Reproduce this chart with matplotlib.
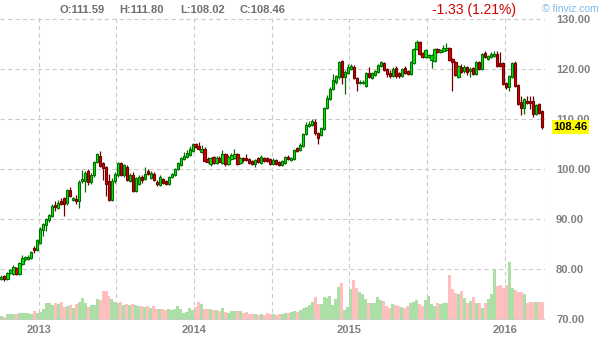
import numpy as np
import pandas as pd
import matplotlib
matplotlib.use('Agg')
import matplotlib.pyplot as plt

plt.rcParams['font.family'] = ['Liberation Sans', 'DejaVu Sans']

# weekly bars, Friday dates
dates = pd.date_range('2012-10-05', periods=182, freq='W-FRI')

opens = [78.0, 78.6, 78.0, 79.3, 79.0, 80.2, 79.1, 81.0, 82.0, 82.1,
         82.2, 84.2, 83.8, 85.2, 87.8, 88.8, 89.9, 90.6, 92.8, 92.3,
         93.7, 94.2, 93.2, 95.9, 93.9, 94.1, 93.7, 97.6, 97.7, 99.7,
         97.5, 98.8, 101.4, 102.7, 101.2, 100.4, 97.7, 93.9, 97.7, 98.8,
         101.2, 98.9, 100.4, 97.7, 98.9, 95.7, 97.1, 98.5, 98.1, 99.6,
         98.3, 99.1, 97.5, 96.9, 98.0, 97.6, 97.1, 98.5, 98.8, 100.0,
         100.9, 102.1, 102.5, 102.9, 103.7, 105.1, 104.7, 103.5, 104.1, 102.1,
         101.0, 102.5, 101.2, 102.3, 101.2, 103.1, 101.1, 102.1, 102.3, 103.1,
         101.3, 102.2, 102.2, 102.0, 101.6, 101.1, 102.2, 101.3, 102.3, 102.2,
         102.0, 101.1, 101.8, 101.4, 100.9, 101.3, 102.5, 101.9, 102.0, 104.2,
         103.9, 104.7, 107.1, 108.7, 108.9, 109.5, 107.3, 106.9, 108.1, 112.3,
         114.1, 116.1, 117.4, 118.4, 121.6, 118.4, 119.2, 120.0, 120.4, 118.2,
         117.2, 117.2, 116.6, 119.2, 118.2, 118.8, 119.4, 120.6, 121.2, 120.0,
         119.2, 118.6, 120.2, 119.2, 118.6, 120.2, 119.6, 119.0, 121.2, 124.0,
         125.4, 123.2, 122.4, 122.4, 121.8, 121.6, 124.0, 123.4, 123.6, 123.8,
         124.2, 122.0, 121.4, 118.4, 120.4, 119.6, 120.4, 119.6, 120.2, 119.0,
         121.4, 120.0, 123.2, 122.0, 122.4, 122.6, 123.0, 121.2, 121.2, 117.2,
         116.4, 118.4, 121.2, 116.8, 113.4, 112.3, 113.7, 113.7, 113.7, 111.1,
         113.1, 111.59]
highs = [78.8, 78.9, 79.5, 80.1, 80.8, 80.4, 81.4, 82.9, 82.7, 82.9,
         83.6, 84.6, 86.0, 88.4, 89.3, 90.2, 91.0, 93.0, 93.7, 93.8,
         94.2, 94.4, 96.1, 96.5, 94.5, 94.9, 97.8, 99.9, 99.6, 100.1,
         99.2, 101.7, 103.3, 103.7, 101.4, 100.6, 99.1, 98.3, 99.4, 101.5,
         101.4, 101.0, 100.9, 99.2, 99.5, 98.5, 98.8, 98.8, 100.5, 100.0,
         99.6, 99.5, 97.9, 98.8, 98.3, 97.9, 98.7, 99.3, 100.3, 101.4,
         102.5, 103.5, 103.9, 104.6, 105.3, 105.3, 105.5, 104.8, 104.5, 102.4,
         102.5, 102.6, 102.6, 102.7, 103.9, 103.3, 102.8, 103.2, 104.1, 103.3,
         102.5, 102.5, 103.0, 102.2, 101.8, 102.0, 102.4, 102.9, 102.5, 102.4,
         102.2, 102.2, 102.0, 101.6, 101.8, 102.7, 102.8, 102.5, 104.1, 104.4,
         105.2, 107.3, 109.4, 109.6, 110.0, 110.0, 107.5, 108.5, 112.5, 114.8,
         116.4, 119.0, 118.9, 121.6, 121.8, 119.8, 121.0, 121.0, 120.8, 118.4,
         117.8, 117.8, 119.4, 120.4, 119.5, 119.9, 121.1, 121.7, 121.4, 120.2,
         119.8, 120.4, 120.6, 119.4, 120.3, 120.6, 119.8, 121.6, 124.2, 125.8,
         125.6, 123.4, 124.0, 123.0, 123.0, 124.2, 124.2, 124.0, 124.8, 125.2,
         124.4, 122.2, 121.6, 120.8, 121.0, 120.8, 120.6, 120.4, 120.4, 121.6,
         121.6, 123.2, 123.6, 122.9, 123.4, 123.6, 123.6, 123.4, 121.4, 117.4,
         118.8, 121.4, 121.6, 117.0, 114.7, 114.2, 114.7, 114.7, 114.6, 113.1,
         113.3, 111.80]
lows = [77.8, 77.7, 77.9, 79.0, 78.9, 78.9, 78.9, 80.8, 81.7, 81.8,
        82.0, 83.2, 83.6, 85.0, 86.7, 87.6, 89.5, 90.5, 91.7, 92.0,
        92.8, 90.6, 92.9, 94.5, 93.6, 93.0, 92.3, 97.3, 95.5, 96.9,
        97.0, 98.5, 101.2, 100.5, 97.8, 94.7, 93.7, 93.7, 97.3, 98.5,
        98.6, 98.5, 97.6, 97.5, 95.5, 95.5, 96.9, 97.3, 97.9, 98.8,
        98.1, 97.7, 96.7, 96.7, 97.0, 96.8, 96.9, 98.3, 98.7, 99.8,
        100.7, 101.9, 102.3, 102.7, 103.5, 104.3, 103.9, 103.3, 101.5, 101.2,
        100.6, 101.1, 101.1, 101.4, 101.0, 100.7, 100.8, 101.9, 102.1, 100.9,
        101.1, 101.5, 101.6, 101.0, 100.8, 100.5, 101.3, 101.1, 101.5, 101.5,
        100.9, 100.9, 100.9, 100.6, 100.7, 101.1, 101.9, 101.7, 101.8, 103.5,
        103.7, 104.5, 106.9, 108.4, 108.7, 106.8, 105.1, 106.6, 107.9, 112.0,
        113.9, 115.9, 117.0, 118.0, 117.1, 115.1, 119.0, 119.8, 118.0, 115.7,
        117.0, 117.0, 116.4, 118.2, 118.0, 118.6, 119.2, 120.4, 119.6, 118.4,
        118.3, 118.4, 118.3, 118.3, 118.4, 119.0, 118.8, 118.8, 121.0, 123.8,
        122.8, 122.2, 122.2, 122.2, 120.3, 121.4, 123.2, 123.2, 123.4, 123.6,
        121.6, 115.7, 118.6, 118.2, 119.2, 119.2, 118.8, 118.4, 118.8, 118.8,
        119.8, 119.8, 122.2, 121.8, 122.2, 122.4, 120.4, 120.4, 116.8, 116.0,
        115.7, 118.2, 116.4, 112.8, 110.9, 111.1, 113.1, 112.0, 110.5, 110.9,
        111.0, 108.02]
closes = [78.5, 78.0, 79.3, 79.8, 80.4, 79.1, 81.2, 82.2, 82.4, 82.5,
          83.4, 83.8, 85.8, 88.0, 89.0, 90.0, 90.8, 92.7, 92.4, 93.3,
          93.1, 93.0, 95.9, 94.7, 94.2, 93.7, 97.5, 98.0, 99.3, 97.5,
          98.9, 101.5, 103.1, 100.7, 100.2, 97.1, 93.9, 97.7, 99.1, 101.2,
          98.9, 100.8, 97.9, 98.9, 95.7, 98.3, 98.5, 97.9, 99.1, 99.1,
          99.3, 97.9, 97.0, 98.5, 97.3, 97.0, 98.5, 99.1, 100.1, 101.2,
          102.3, 102.7, 103.3, 104.1, 105.1, 104.5, 104.1, 104.1, 101.7, 101.5,
          102.3, 101.3, 102.3, 101.5, 103.1, 101.1, 102.5, 102.9, 103.1, 101.1,
          102.3, 101.8, 101.8, 101.3, 101.1, 101.8, 101.5, 102.5, 101.7, 101.7,
          101.1, 101.9, 101.1, 100.9, 101.6, 102.5, 102.1, 102.3, 103.9, 103.7,
          104.9, 107.1, 108.9, 109.1, 109.6, 107.3, 106.3, 108.2, 112.3, 114.3,
          116.1, 117.8, 118.6, 121.4, 118.4, 119.4, 120.4, 120.6, 118.2, 117.2,
          117.5, 117.5, 119.2, 118.4, 119.2, 119.6, 120.8, 121.4, 119.8, 119.0,
          118.6, 120.0, 118.6, 118.6, 120.0, 119.2, 119.0, 121.4, 124.0, 125.4,
          123.0, 122.4, 123.8, 122.8, 122.8, 124.0, 123.4, 123.8, 124.2, 124.2,
          121.8, 121.4, 118.8, 120.6, 119.4, 120.4, 119.4, 120.1, 119.0, 121.4,
          120.0, 123.0, 122.4, 122.6, 123.0, 123.0, 120.6, 120.6, 117.0, 116.4,
          118.6, 121.2, 116.6, 113.0, 112.2, 114.0, 113.3, 113.3, 111.1, 112.9,
          111.3, 108.46]
volume_m = [4, 3, 6, 6, 6, 6, 7, 7, 7, 7,
            6, 9, 7, 8, 11, 17, 17, 15, 17, 16,
            18, 13, 14, 15, 12, 16, 18, 22, 17, 13,
            15, 15, 21, 20, 29, 29, 24, 21, 18, 17,
            18, 15, 16, 15, 16, 15, 14, 14, 13, 14,
            12, 14, 11, 11, 11, 10, 11, 10, 11, 14,
            11, 7, 8, 12, 10, 13, 18, 16, 11, 11,
            11, 10, 10, 9, 12, 8, 7, 9, 9, 9,
            9, 7, 8, 6, 6, 6, 5, 6, 5, 7,
            6, 6, 5, 6, 6, 7, 7, 8, 9, 8,
            10, 12, 13, 15, 18, 23, 16, 16, 23, 22,
            24, 15, 21, 33, 37, 10, 13, 31, 40, 32,
            28, 26, 21, 17, 17, 17, 23, 20, 19, 14,
            12, 16, 15, 14, 13, 12, 14, 17, 18, 20,
            16, 14, 20, 24, 16, 14, 17, 16, 17, 17,
            45, 31, 27, 26, 29, 22, 17, 19, 23, 17,
            17, 12, 17, 21, 26, 50, 34, 35, 32, 35,
            58, 32, 30, 28, 28, 26, 17, 18, 18, 18,
            18, 18]
prev_day_close = 109.79  # day before the last quote

o = np.array(opens)
h = np.array(highs)
l = np.array(lows)
c = np.array(closes)
x = np.arange(len(c))
up = c >= o

fig = plt.figure(figsize=(6.1, 3.38), dpi=100)
axv = fig.add_axes([0, 18 / 338, 545 / 610, 302 / 338])
ax = fig.add_axes([0, 18 / 338, 545 / 610, 302 / 338], sharex=axv)
ax.set_zorder(axv.get_zorder() + 1)
ax.patch.set_visible(False)

# volume underneath
vol_colors = np.where(up, '#abdfa6', '#ffbfbf')
axv.bar(x, volume_m, width=1.0, color=vol_colors, linewidth=0)
axv.set_ylim(0, 302)
axv.axis('off')

ax.set_xlim(-0.5, 182.0)
ax.set_ylim(69.8, 130.26)

# half-year grid lines
half_years = pd.date_range('2013-01-01', '2016-01-01', freq='6MS')
grid_x = [np.searchsorted(dates, d) - 0.5 for d in half_years]
dash = (0, (3.8, 2.9))
for gx in grid_x:
    ax.axvline(gx, color='#cbcbcb', lw=0.8, linestyle=dash, zorder=0)
ax.axvline(181.85, color='#cbcbcb', lw=0.8, linestyle=dash, zorder=0)
for gy in range(70, 131, 10):
    ax.axhline(gy, color='#cbcbcb', lw=0.8, linestyle=dash, zorder=0)

# candles
edge = np.where(up, '#006e00', '#700000')
fill = np.where(up, '#00ee00', '#dd0000')
ax.vlines(x, l, h, color=edge, lw=0.9, zorder=2)
body = np.where(np.abs(c - o) < 0.05, 0.05, c - o)
ax.bar(x, body, bottom=o, width=0.74, color=fill, edgecolor=edge,
       linewidth=0.8, zorder=3)

for s in ax.spines.values():
    s.set_visible(False)

ax.yaxis.tick_right()
yt = list(range(70, 131, 10))
ax.set_yticks(yt)
ax.set_yticklabels([f'{v:.2f}' for v in yt])
ax.tick_params(axis='y', length=0, pad=8, labelsize=8, labelcolor='#808080')
for t in ax.get_yticklabels():
    t.set_fontweight('bold')

year_x = [np.searchsorted(dates, pd.Timestamp(f'{y}-01-01')) - 0.5 for y in (2013, 2014, 2015, 2016)]
ax.set_xticks(year_x)
ax.set_xticklabels(['2013', '2014', '2015', '2016'])
ax.tick_params(axis='x', length=0, pad=3.5, labelsize=8, labelcolor='#808080')
for t in ax.get_xticklabels():
    t.set_fontweight('bold')

# last price tag
ax.text(1.015, c[-1], f'{c[-1]:.2f}', transform=ax.get_yaxis_transform(),
        ha='left', va='center', fontsize=8, fontweight='bold', color='black',
        zorder=10, bbox=dict(boxstyle='square,pad=0.15', fc='#ffff00', ec='none'))

# header
def px(xp, yp):
    return xp / 610, 1 - yp / 338

hdr = [('O', o[-1], 59), ('H', h[-1], 119), ('L', l[-1], 180), ('C', c[-1], 239)]
for lab, val, xp in hdr:
    fig.text(*px(xp, 10), f'{lab}:{val:.2f}', ha='left', va='center',
             fontsize=8, fontweight='bold', color='#6e6e6e')
chg = c[-1] - prev_day_close
fig.text(*px(432, 10), f'{chg:.2f} ({abs(chg) / prev_day_close * 100:.2f}%)', ha='left',
         va='center', fontsize=10, color='#cc0000')
fig.text(*px(542, 9), '\u00a9 finviz.com', ha='left', va='center',
         fontsize=7.5, color='#7fb8e6')

fig.savefig('out.png', dpi=100)
